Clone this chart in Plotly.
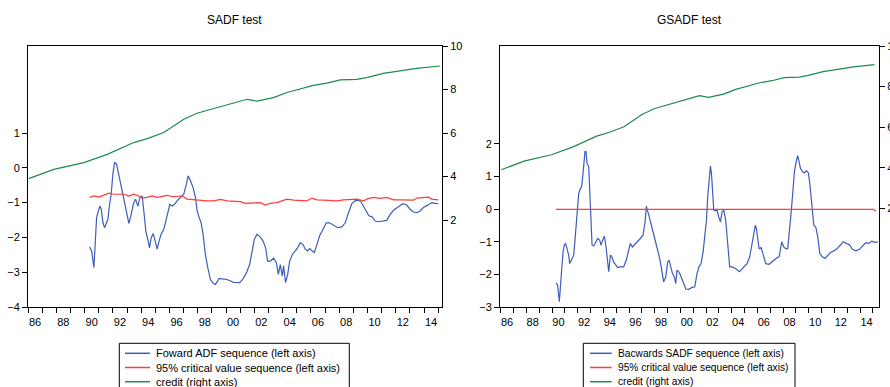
import plotly.graph_objects as go

# ---------------- data ----------------
credit_years = [1986.05, 1987.83, 1989.95, 1991.60, 1993.48, 1994.43, 1995.60, 1996.30, 1997.01,
                1997.95, 1999.37, 2000.54, 2001.48, 2002.19, 2003.36, 2004.31, 2005.25, 2006.18,
                2007.13, 2008.07, 2009.25, 2009.95, 2011.12, 2012.30, 2013.48, 2015.12]
credit = [3.90, 4.33, 4.64, 5.02, 5.56, 5.74, 6.02, 6.32, 6.63, 6.91, 7.17, 7.40, 7.55, 7.47,
          7.63, 7.86, 8.01, 8.19, 8.29, 8.44, 8.47, 8.55, 8.74, 8.85, 8.97, 9.08]

fwd_years = [1990.36, 1990.50, 1990.66, 1990.78, 1990.85, 1990.94, 1991.08, 1991.18, 1991.30, 1991.41,
             1991.53, 1991.65, 1991.74, 1991.88, 1992.00, 1992.12, 1992.26, 1992.43, 1992.59, 1992.73,
             1992.87, 1993.01, 1993.13, 1993.30, 1993.44, 1993.60, 1993.77, 1993.91, 1994.07, 1994.19,
             1994.33, 1994.47, 1994.59, 1994.71, 1994.85, 1994.99, 1995.13, 1995.27, 1995.41, 1995.60,
             1995.74, 1995.89, 1996.03, 1996.19, 1996.36, 1996.54, 1996.78, 1997.01, 1997.20, 1997.32,
             1997.49, 1997.67, 1997.84, 1997.96, 1998.10, 1998.24, 1998.38, 1998.54, 1998.71, 1998.90,
             1999.09, 1999.25, 1999.37, 1999.51, 1999.72, 2000.07, 2000.54, 2000.97, 2001.20, 2001.44,
             2001.67, 2001.86, 2002.00, 2002.19, 2002.43, 2002.61, 2002.80, 2002.94, 2003.13, 2003.37,
             2003.56, 2003.70, 2003.84, 2003.98, 2004.07, 2004.21, 2004.36, 2004.50, 2004.69, 2004.90,
             2005.06, 2005.25, 2005.44, 2005.60, 2005.77, 2005.91, 2006.07, 2006.24, 2006.43, 2006.61,
             2006.85, 2007.09, 2007.32, 2007.60, 2007.89, 2008.19, 2008.43, 2008.66, 2008.90, 2009.13,
             2009.37, 2009.53, 2009.72, 2009.91, 2010.10, 2010.33, 2010.54, 2010.78, 2011.13, 2011.37,
             2011.60, 2011.84, 2012.19, 2012.50, 2012.78, 2013.01, 2013.25, 2013.49, 2013.72, 2013.96,
             2014.24, 2014.54, 2014.78, 2015.01]
fwd_adf = [-2.28, -2.39, -2.87, -2.01, -1.43, -1.29, -1.10, -1.19, -1.58, -1.72,
           -1.58, -1.48, -1.14, -0.76, -0.18, 0.15, 0.11, -0.23, -0.57, -0.81,
           -1.10, -1.38, -1.60, -1.34, -1.05, -0.90, -1.10, -0.86, -0.81, -1.24,
           -1.82, -2.06, -2.30, -2.01, -1.89, -2.10, -2.34, -2.10, -1.91, -1.77,
           -1.53, -1.24, -1.05, -1.10, -1.05, -0.95, -0.86, -0.76, -0.47, -0.23,
           -0.37, -0.57, -0.86, -1.24, -1.43, -1.58, -1.91, -2.49, -2.87, -3.21,
           -3.32, -3.35, -3.28, -3.18, -3.19, -3.21, -3.29, -3.30, -3.19, -3.02,
           -2.78, -2.39, -2.06, -1.91, -1.99, -2.10, -2.30, -2.68, -2.68, -2.60,
           -2.73, -3.06, -2.78, -3.11, -2.82, -3.30, -3.06, -2.68, -2.49, -2.39,
           -2.30, -2.15, -2.20, -2.34, -2.39, -2.32, -2.39, -2.44, -2.20, -1.96,
           -1.77, -1.58, -1.58, -1.64, -1.72, -1.70, -1.58, -1.29, -1.03, -0.95,
           -0.93, -0.97, -1.10, -1.24, -1.38, -1.41, -1.53, -1.55, -1.53, -1.51,
           -1.34, -1.22, -1.12, -1.03, -1.07, -1.19, -1.27, -1.29, -1.24, -1.14,
           -1.08, -1.00, -1.02, -1.03]

cv_fwd_years = [1990.36, 1990.66, 1991.01, 1991.37, 1991.72, 1992.07, 1992.43, 1992.78, 1993.13, 1993.48,
                1993.84, 1994.07, 1994.43, 1994.78, 1995.13, 1995.48, 1995.84, 1996.19, 1996.54, 1996.90,
                1997.25, 1997.72, 1998.19, 1998.66, 1999.13, 1999.60, 2000.07, 2000.54, 2001.01, 2001.37,
                2001.96, 2002.43, 2002.78, 2003.13, 2003.60, 2003.96, 2004.31, 2004.78, 2005.25, 2005.72,
                2006.07, 2006.43, 2006.90, 2007.37, 2007.84, 2008.31, 2008.78, 2009.25, 2009.72, 2010.07,
                2010.43, 2010.90, 2011.37, 2011.84, 2012.31, 2012.78, 2013.25, 2013.49, 2013.96, 2014.31,
                2014.54, 2015.01]
cv_fwd = [-0.85, -0.81, -0.84, -0.78, -0.73, -0.76, -0.76, -0.76, -0.81, -0.76,
          -0.81, -0.87, -0.85, -0.81, -0.85, -0.81, -0.79, -0.83, -0.81, -0.81,
          -0.90, -0.92, -0.95, -0.95, -0.95, -0.91, -0.95, -0.95, -0.97, -1.02,
          -1.02, -1.00, -1.07, -1.02, -1.00, -0.95, -0.90, -0.93, -0.93, -0.95,
          -0.87, -0.92, -0.93, -0.95, -0.95, -0.92, -0.90, -0.90, -0.95, -0.88,
          -0.85, -0.88, -0.85, -0.92, -0.92, -0.93, -0.93, -0.87, -0.85, -0.84,
          -0.90, -0.92]

bsadf_years = [1990.31, 1990.44, 1990.57, 1990.70, 1990.78, 1990.86, 1990.96, 1991.06, 1991.17, 1991.30,
               1991.38, 1991.48, 1991.58, 1991.69, 1991.77, 1991.87, 1991.97, 1992.08, 1992.21, 1992.31,
               1992.39, 1992.49, 1992.57, 1992.65, 1992.73, 1992.86, 1992.93, 1993.04, 1993.12, 1993.25,
               1993.38, 1993.56, 1993.71, 1993.82, 1993.95, 1994.08, 1994.21, 1994.34, 1994.42, 1994.55,
               1994.67, 1994.80, 1994.96, 1995.12, 1995.32, 1995.58, 1995.79, 1995.95, 1996.10, 1996.26,
               1996.42, 1996.62, 1996.88, 1997.09, 1997.25, 1997.35, 1997.45, 1997.61, 1997.77, 1997.92,
               1998.08, 1998.23, 1998.39, 1998.55, 1998.70, 1998.86, 1999.01, 1999.12, 1999.25, 1999.38,
               1999.53, 1999.64, 1999.74, 1999.87, 2000.00, 2000.21, 2000.42, 2000.65, 2000.91, 2001.12,
               2001.30, 2001.45, 2001.61, 2001.77, 2001.92, 2002.03, 2002.13, 2002.23, 2002.34, 2002.42,
               2002.49, 2002.60, 2002.73, 2002.86, 2002.99, 2003.12, 2003.25, 2003.38, 2003.53, 2003.69,
               2003.84, 2004.03, 2004.29, 2004.60, 2004.93, 2005.19, 2005.40, 2005.56, 2005.71, 2005.84,
               2005.92, 2006.03, 2006.13, 2006.29, 2006.44, 2006.65, 2006.91, 2007.12, 2007.35, 2007.53,
               2007.69, 2007.79, 2007.90, 2008.05, 2008.21, 2008.36, 2008.52, 2008.62, 2008.75, 2008.88,
               2009.04, 2009.14, 2009.25, 2009.35, 2009.51, 2009.66, 2009.82, 2009.97, 2010.08, 2010.18,
               2010.29, 2010.39, 2010.55, 2010.70, 2010.86, 2011.06, 2011.27, 2011.48, 2011.69, 2011.95,
               2012.21, 2012.47, 2012.67, 2012.93, 2013.19, 2013.40, 2013.66, 2013.92, 2014.18, 2014.44,
               2014.70, 2014.91, 2015.17, 2015.38]
bsadf = [-2.26, -2.33, -2.84, -2.30, -1.72, -1.31, -1.10, -1.05, -1.21, -1.41,
         -1.67, -1.58, -1.46, -1.41, -1.05, -0.54, -0.03, 0.48, 0.63, 0.69,
         0.99, 1.40, 1.76, 1.76, 1.40, 1.30, 0.69, -0.13, -1.10, -1.13,
         -1.05, -0.90, -0.95, -1.10, -0.95, -0.83, -1.16, -1.72, -1.92, -1.41,
         -1.46, -1.62, -1.72, -1.79, -1.77, -1.77, -1.56, -1.26, -1.05, -1.16,
         -1.10, -1.00, -0.90, -0.80, -0.39, 0.09, -0.03, -0.29, -0.54, -0.80,
         -1.10, -1.26, -1.51, -1.97, -2.23, -2.08, -1.62, -1.56, -1.82, -1.97,
         -2.08, -2.28, -1.87, -1.92, -2.02, -2.23, -2.45, -2.46, -2.40, -2.38,
         -1.97, -1.77, -1.67, -1.31, -0.85, -0.34, 0.38, 0.84, 1.32, 1.09,
         0.48, -0.03, -0.05, -0.03, -0.24, -0.39, -0.08, -0.03, -0.34, -1.10,
         -1.77, -1.77, -1.82, -1.92, -1.79, -1.67, -1.46, -1.10, -0.75, -0.49,
         -0.59, -0.95, -1.21, -1.18, -1.36, -1.67, -1.69, -1.62, -1.54, -1.49,
         -1.46, -1.21, -1.00, -1.16, -1.21, -1.21, -0.64, -0.13, 0.48, 1.15,
         1.50, 1.64, 1.45, 1.25, 1.15, 1.11, 1.18, 1.11, 0.79, 0.38,
         -0.03, -0.49, -0.56, -0.85, -1.36, -1.46, -1.51, -1.41, -1.33, -1.28,
         -1.21, -1.10, -1.00, -1.05, -1.10, -1.23, -1.28, -1.24, -1.13, -1.03,
         -1.05, -0.98, -1.02, -1.01]

cv_bsadf_years = [1990.31, 1995.0, 2000.0, 2005.0, 2010.0, 2015.06, 2015.22]
cv_bsadf = [-0.01, -0.01, -0.01, -0.01, -0.01, -0.01, -0.07]

year_ticks = list(range(1986, 2016))
label_years = list(range(1986, 2015, 2))
label_text = [f"{y % 100:02d}" for y in label_years]

left_ticks_sadf = [-4, -3, -2, -1, 0, 1]
left_ticks_gsadf = [-3, -2, -1, 0, 1, 2]
right_ticks = [2, 4, 6, 8, 10]

titles = ["SADF test", "GSADF test"]
legend_sadf = ["Foward ADF sequence (left axis)", "95% critical value sequence (left axis)", "credit (right axis)"]
legend_gsadf = ["Bacwards SADF sequence (left axis)", "95% critical value sequence (left axis)", "credit (right axis)"]

# ---------------- styling ----------------
W, H = 890, 387
BLUE = "#3D5DB8"
RED = "#FF3B3B"
GREEN = "#1E8A4C"
FONT = "Liberation Sans, Arial, sans-serif"
LW = 1.2


def px_x(p):
    return p / W


def px_y(p):
    return 1 - p / H


fig = go.Figure()

# left panel
fig.add_trace(go.Scatter(x=fwd_years, y=fwd_adf, mode="lines", line=dict(color=BLUE, width=LW),
                         xaxis="x", yaxis="y", showlegend=False))
fig.add_trace(go.Scatter(x=cv_fwd_years, y=cv_fwd, mode="lines", line=dict(color=RED, width=LW),
                         xaxis="x", yaxis="y", showlegend=False))
fig.add_trace(go.Scatter(x=credit_years, y=credit, mode="lines", line=dict(color=GREEN, width=LW),
                         xaxis="x", yaxis="y2", showlegend=False))
# right panel
fig.add_trace(go.Scatter(x=bsadf_years, y=bsadf, mode="lines", line=dict(color=BLUE, width=LW),
                         xaxis="x2", yaxis="y3", showlegend=False))
fig.add_trace(go.Scatter(x=cv_bsadf_years, y=cv_bsadf, mode="lines", line=dict(color=RED, width=LW),
                         xaxis="x2", yaxis="y3", showlegend=False))
fig.add_trace(go.Scatter(x=credit_years, y=credit, mode="lines", line=dict(color=GREEN, width=LW),
                         xaxis="x2", yaxis="y4", showlegend=False))

ydom = [px_y(307), px_y(46)]
tickfont = dict(family=FONT, size=11, color="black")


def xaxis_cfg(dom, rng, anchor):
    return dict(domain=dom, range=rng, anchor=anchor,
                tickmode="array", tickvals=[y + 0.5 for y in label_years], ticktext=label_text,
                ticks="outside", ticklen=5, tickcolor="rgba(0,0,0,0)",
                minor=dict(tickmode="array", tickvals=year_ticks, ticks="outside", ticklen=5,
                           tickcolor="black", tickwidth=1, showgrid=False),
                showline=True, linecolor="black", linewidth=1, mirror=True,
                showgrid=False, zeroline=False, tickfont=tickfont, fixedrange=True)


def yleft_cfg(rng, tv, anchor):
    return dict(domain=ydom, range=rng, anchor=anchor, tickmode="array", tickvals=tv,
                ticks="outside", ticklen=5, tickcolor="black",
                showline=True, linecolor="black", linewidth=1, mirror=True,
                showgrid=False, zeroline=False, tickfont=tickfont, fixedrange=True)


def yright_cfg(rng, overlay, anchor):
    return dict(domain=ydom, range=rng, anchor=anchor, overlaying=overlay, side="right",
                tickmode="array", tickvals=right_ticks, ticks="outside", ticklen=5, tickcolor="black",
                showline=False, showgrid=False, zeroline=False, tickfont=tickfont, fixedrange=True)


fig.update_layout(
    width=W, height=H,
    margin=dict(l=0, r=0, t=0, b=0, autoexpand=False),
    paper_bgcolor="white", plot_bgcolor="white",
    xaxis=xaxis_cfg([px_x(28), px_x(442)], [1986.0, 2015.27], "y"),
    yaxis=yleft_cfg([-4, 3.5], left_ticks_sadf, "x"),
    yaxis2=yright_cfg([-2, 10], "y", "x"),
    xaxis2=xaxis_cfg([px_x(500), px_x(879)], [1985.95, 2015.47], "y3"),
    yaxis3=yleft_cfg([-3, 5], left_ticks_gsadf, "x2"),
    yaxis4=yright_cfg([-2.86, 10], "y3", "x2"),
    showlegend=False,
)

annotations = []
shapes = []
# titles
for title, cx in zip(titles, [235, 689.5]):
    annotations.append(dict(text=title, x=px_x(cx), y=px_y(20.5), xref="paper", yref="paper",
                            xanchor="center", yanchor="middle", showarrow=False,
                            font=dict(family=FONT, size=12, color="black")))

# manual legends (EViews-style boxes)
for labels, (bx0, bx1, lx0, lx1, tx, fs) in [(legend_sadf, (119.3, 349.3, 125, 150, 154, 11)),
                                             (legend_gsadf, (583.3, 795, 590, 611.7, 615.5, 10.2))]:
    shapes.append(dict(type="rect", xref="paper", yref="paper", x0=px_x(bx0), x1=px_x(bx1),
                       y0=px_y(343.3), y1=px_y(400), line=dict(color="black", width=1),
                       fillcolor="white", layer="above"))
    for lab, col, ry in zip(labels, [BLUE, RED, GREEN], [353.3, 367.5, 381.7]):
        shapes.append(dict(type="line", xref="paper", yref="paper", x0=px_x(lx0), x1=px_x(lx1),
                           y0=px_y(ry), y1=px_y(ry), line=dict(color=col, width=1.5), layer="above"))
        annotations.append(dict(text=lab, x=px_x(tx), y=px_y(ry), xref="paper", yref="paper",
                                xanchor="left", yanchor="middle", showarrow=False,
                                font=dict(family=FONT, size=fs, color="black")))

fig.update_layout(annotations=annotations, shapes=shapes)

fig.write_html("out.html", config={"displayModeBar": False},
               post_script="document.body.style.margin='0';document.body.style.overflow='hidden';")
